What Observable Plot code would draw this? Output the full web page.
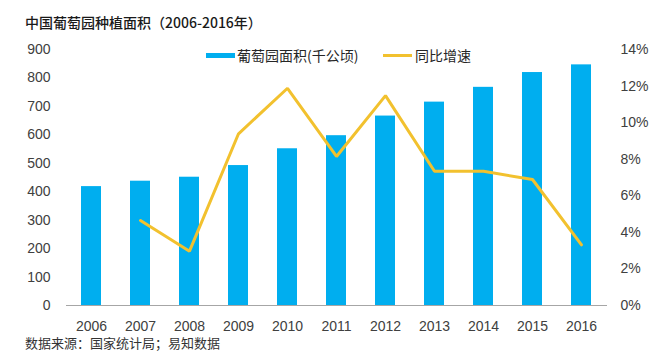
<!DOCTYPE html>
<html>
<head>
<meta charset="utf-8">
<script src="https://cdn.jsdelivr.net/npm/d3@7"></script>
<script src="https://cdn.jsdelivr.net/npm/@observablehq/plot@0.6"></script>
<style>
  html, body { margin: 0; padding: 0; background: #fff; }
  #wrap { position: relative; width: 670px; height: 362px; overflow: hidden; }
  #wrap svg { position: absolute; left: 0; top: 0; }
  .t { position: absolute; white-space: nowrap; font-family: "Noto Sans CJK SC", sans-serif; color: #262626; }
  #title { left: 25px; top: 12px; font-size: 14px; line-height: 20px; font-weight: 500; color: #1a1a1a; }
  #caption { left: 25px; top: 334px; font-size: 13px; line-height: 18px; color: #333; }
  .lg { font-size: 14px; line-height: 18px; top: 46px; color: #262626; }
  .sw { position: absolute; }
</style>
</head>
<body>
<div id="wrap">
  <div id="title" class="t">中国葡萄园种植面积（2006-2016年）</div>
  <div class="sw" style="left:206px;top:53px;width:29px;height:5px;background:#00AEEF"></div>
  <div class="t lg" style="left:237px">葡萄园面积(千公顷)</div>
  <div class="sw" style="left:383px;top:54px;width:29px;height:2.5px;background:#F2C12E"></div>
  <div class="t lg" style="left:415px">同比增速</div>
  <div id="caption" class="t">数据来源：国家统计局；易知数据</div>
</div>
<script>
const years = ["2006","2007","2008","2009","2010","2011","2012","2013","2014","2015","2016"];
const area = [418, 437, 451, 492, 551, 597, 666, 715, 767, 819, 846];
const growth = [null, 4.65, 2.97, 9.39, 11.88, 8.15, 11.48, 7.34, 7.34, 6.89, 3.32];
const leftTicks = [0, 100, 200, 300, 400, 500, 600, 700, 800, 900];
const rightTicks = [0, 2, 4, 6, 8, 10, 12, 14];

const leftMax = 900, rightMax = 14;
const toLeft = p => p * leftMax / rightMax;

const rows = years.map((y, i) => ({year: y, area: area[i], growth: growth[i]}));
const lineRows = rows.filter(d => d.growth != null);

const chart = Plot.plot({
  width: 670,
  height: 362,
  marginTop: 49,
  marginBottom: 57,
  marginLeft: 66,
  marginRight: 63,
  style: {fontFamily: "'Liberation Sans', Arial, sans-serif", fontSize: "14px", color: "#404040", background: "transparent"},
  x: {domain: years, paddingInner: 0.59, paddingOuter: 0.295},
  y: {domain: [0, leftMax]},
  marks: [
    Plot.barY(rows, {x: "year", y: "area", fill: "#00AEEF"}),
    Plot.ruleY([0], {stroke: "#a6a6a6", strokeWidth: 1}),
    Plot.line(lineRows, {x: "year", y: d => toLeft(d.growth), stroke: "#F2C12E", strokeWidth: 3, strokeLinejoin: "miter"}),
    Plot.axisX({tickSize: 0, tickPadding: 16, label: null}),
    Plot.axisY(leftTicks, {anchor: "left", tickSize: 0, tickPadding: 16, label: null}),
    Plot.axisY(rightTicks.map(toLeft), {anchor: "right", tickSize: 0, tickPadding: 13, label: null,
      tickFormat: d => Math.round(d * rightMax / leftMax) + "%"})
  ]
});
document.getElementById("wrap").prepend(chart);
</script>
</body>
</html>
